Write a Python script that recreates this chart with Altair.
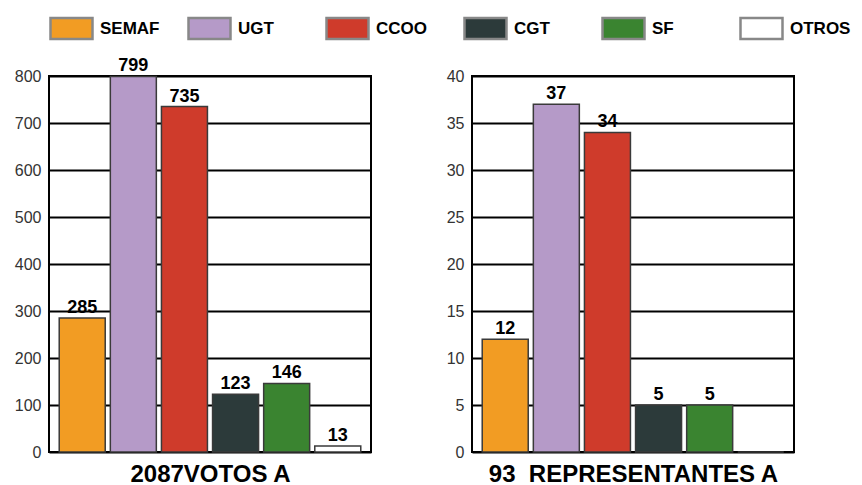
import altair as alt
import pandas as pd

categories = ["SEMAF", "UGT", "CCOO", "CGT", "SF", "OTROS"]
colors = ["#F29C23", "#B59AC8", "#CF3B2B", "#2C3A3A", "#3A8430", "#FFFFFF"]
votos = [285, 799, 735, 123, 146, 13]
representantes = [12, 37, 34, 5, 5, 0]
votos_ticks = [0, 100, 200, 300, 400, 500, 600, 700, 800]
repr_ticks = [0, 5, 10, 15, 20, 25, 30, 35, 40]

FONT = "Liberation Sans, Arial, Helvetica"


def panel(values, domain, ticks, title):
    df = pd.DataFrame({"sindicato": categories, "valor": values})
    x = alt.X(
        "sindicato:N",
        sort=categories,
        scale=alt.Scale(paddingInner=0.1, paddingOuter=0.2),
        axis=alt.Axis(labels=False, ticks=False, domain=False, title=title,
                      titleFont=FONT, titleFontSize=24, titleFontWeight="bold",
                      titleColor="black", titlePadding=10),
    )
    y = alt.Y(
        "valor:Q",
        scale=alt.Scale(domain=domain, nice=False, zero=True),
        axis=alt.Axis(values=ticks, title=None, grid=True, gridColor="black",
                      gridWidth=2, gridOpacity=1, domain=False, ticks=False,
                      labelPadding=8, labelFont=FONT,
                      labelFontSize=16, labelColor="#333"),
    )
    bars = alt.Chart(df).mark_bar(stroke="#3a3a3a", strokeWidth=1.5).encode(
        x=x,
        y=y,
        color=alt.Color(
            "sindicato:N",
            sort=categories,
            scale=alt.Scale(domain=categories, range=colors),
            legend=alt.Legend(
                title=None, orient="top", direction="horizontal", columns=6,
                symbolType="M-1,-0.5H1V0.5H-1Z", symbolSize=1764,
                symbolStrokeColor="#888", symbolStrokeWidth=2.5, symbolOpacity=1,
                labelFont=FONT, labelFontSize=17, labelFontWeight="bold",
                labelColor="black", labelOffset=6, gridAlign="all",
                columnPadding=22, offset=12,
            ),
        ),
    )
    text = alt.Chart(df).mark_text(
        dy=-5, baseline="alphabetic", font=FONT, fontSize=18,
        fontWeight="bold", color="black"
    ).encode(
        x=alt.X("sindicato:N", sort=categories),
        y=alt.Y("valor:Q"),
        text=alt.Text("valor:Q"),
    ).transform_filter("datum.valor > 0")
    return alt.layer(bars, text).properties(width=322, height=376)


left = panel(votos, [0, 800], votos_ticks, "2087VOTOS A")
right = panel(representantes, [0, 40], repr_ticks, "93\u00a0 REPRESENTANTES A")

chart = alt.hconcat(left, right, spacing=73).properties(
    padding={"left": 13, "top": 6, "right": 0, "bottom": 0},
    background="white",
).configure_view(stroke="black", strokeWidth=2)

chart.save("out.html", embed_options={"renderer": "svg", "actions": False})
